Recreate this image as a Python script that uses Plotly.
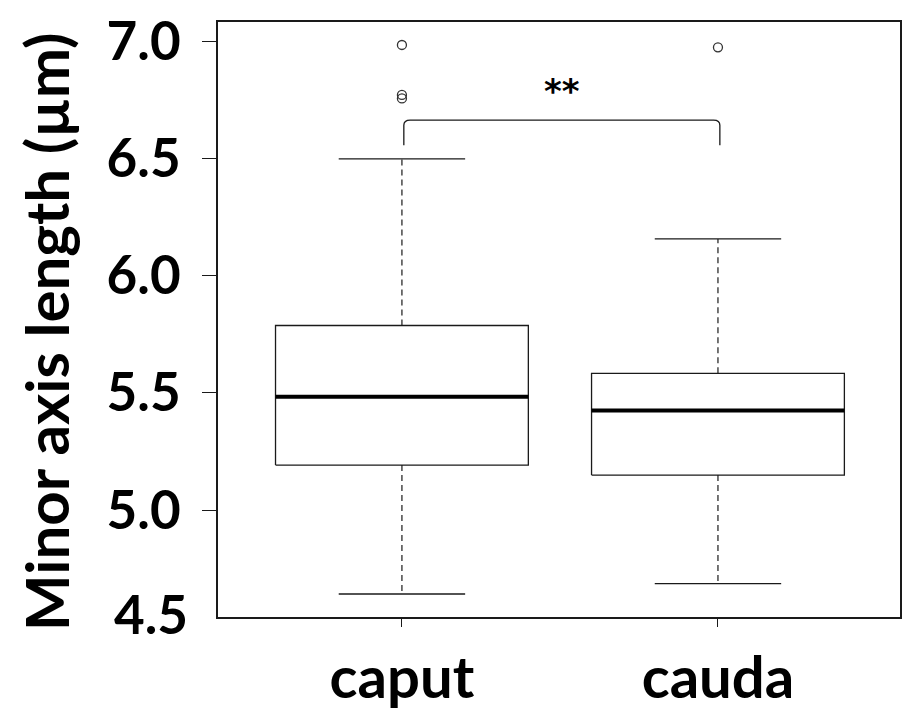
import plotly.graph_objects as go

# ---- data ----
groups = ["caput", "cauda"]
positions = [1, 2]
q1 = [5.192, 5.149]
median = [5.483, 5.425]
q3 = [5.787, 5.583]
whisker_low = [4.642, 4.686]
whisker_high = [6.497, 6.156]
outliers = {
    "caput": [6.983, 6.770, 6.755],
    "cauda": [6.973],
}
y_tick_vals = [5.0, 5.5, 6.0, 6.5, 7.0]
y_tick_text = ["5.0", "5.5", "6.0", "6.5", "7.0"]
y_bottom_label = "4.5"
y_title = "Minor axis length (µm)"
signif_text = "**"
bracket_level = 6.663
bracket_drop = 6.556

# ---- styles ----
box_half = 0.4
cap_half = 0.2
line_col = "#1a1a1a"
tick_font = dict(family="Lato", size=53, color="black", weight="bold")
label_font = dict(family="Lato", size=58, color="black", weight="bold")

PLOT_L, PLOT_R, PLOT_T, PLOT_B = 218, 900, 22, 617
plot_w = PLOT_R - PLOT_L
plot_h = PLOT_B - PLOT_T

fig = go.Figure()

for i, g in enumerate(groups):
    x0 = positions[i]
    fig.add_trace(go.Scatter(
        x=[x0 - box_half, x0 + box_half, x0 + box_half, x0 - box_half, x0 - box_half],
        y=[q1[i], q1[i], q3[i], q3[i], q1[i]],
        mode="lines", line=dict(color=line_col, width=1.3),
        fill="toself", fillcolor="white", hoverinfo="skip", showlegend=False))
    fig.add_trace(go.Scatter(
        x=[x0 - box_half, x0 + box_half], y=[median[i], median[i]],
        mode="lines", line=dict(color="black", width=4),
        hoverinfo="skip", showlegend=False))
    fig.add_trace(go.Scatter(
        x=[x0, x0, None, x0, x0],
        y=[q3[i], whisker_high[i], None, q1[i], whisker_low[i]],
        mode="lines", line=dict(color=line_col, width=1.2, dash="6px,4px"),
        hoverinfo="skip", showlegend=False))
    fig.add_trace(go.Scatter(
        x=[x0 - cap_half, x0 + cap_half, None, x0 - cap_half, x0 + cap_half],
        y=[whisker_high[i], whisker_high[i], None, whisker_low[i], whisker_low[i]],
        mode="lines", line=dict(color=line_col, width=1.3),
        hoverinfo="skip", showlegend=False))
    fig.add_trace(go.Scatter(
        x=[x0] * len(outliers[g]), y=outliers[g], mode="markers",
        marker=dict(symbol="circle-open", size=9, color="#333333",
                    line=dict(width=1.3, color="#333333")),
        hoverinfo="skip", showlegend=False))

# significance bracket
xl = positions[0] + 0.006
xr = positions[1] + 0.006
dx, dy = 0.02, 0.022
path = (f"M {xl},{bracket_drop} L {xl},{bracket_level - dy} "
        f"Q {xl},{bracket_level} {xl + dx},{bracket_level} "
        f"L {xr - dx},{bracket_level} "
        f"Q {xr},{bracket_level} {xr},{bracket_level - dy} "
        f"L {xr},{bracket_drop}")
fig.add_shape(type="path", path=path, xref="x", yref="y",
              line=dict(color=line_col, width=1.3))
fig.add_annotation(x=(positions[0] + positions[1]) / 2 + 0.006, y=6.786,
                   xref="x", yref="y", text=signif_text, showarrow=False,
                   font=dict(family="DejaVu Sans", size=34, color="black", weight="bold"))

# y bottom label (outside the plotting range)
fig.add_annotation(x=(190 - PLOT_L) / plot_w, y=4.561, xref="paper", yref="y",
                   xanchor="right", yanchor="middle", text=y_bottom_label,
                   showarrow=False, font=tick_font)
# y title
fig.add_annotation(x=(46 - PLOT_L) / plot_w, y=(PLOT_B - 332) / plot_h,
                   xref="paper", yref="paper", xanchor="center", yanchor="middle",
                   text=y_title, showarrow=False, textangle=-90,
                   font=dict(family="Lato", size=60, color="black", weight="bold"))

fig.update_layout(
    width=909, height=712,
    margin=dict(l=PLOT_L, r=909 - PLOT_R, t=PLOT_T, b=712 - PLOT_B, pad=0),
    paper_bgcolor="white", plot_bgcolor="white",
    xaxis=dict(range=[0.418, 2.576], tickmode="array", tickvals=positions,
               ticktext=groups, ticks="outside", ticklen=8, tickwidth=1.3,
               tickcolor=line_col, showgrid=False, zeroline=False,
               showline=True, linecolor=line_col, linewidth=1.5, mirror=True,
               tickfont=label_font, ticklabelstandoff=2, automargin=False),
    yaxis=dict(range=[4.544, 7.081], tickmode="array", tickvals=y_tick_vals,
               ticktext=y_tick_text, ticks="outside", ticklen=14, tickwidth=1.3,
               tickcolor=line_col, showgrid=False, zeroline=False,
               showline=True, linecolor=line_col, linewidth=1.5, mirror=True,
               tickfont=tick_font, ticklabelstandoff=11, automargin=False),
)

fig.write_html("out.html", config={"displayModeBar": False},
               post_script="document.body.style.margin='0px';document.body.style.overflow='hidden';")
